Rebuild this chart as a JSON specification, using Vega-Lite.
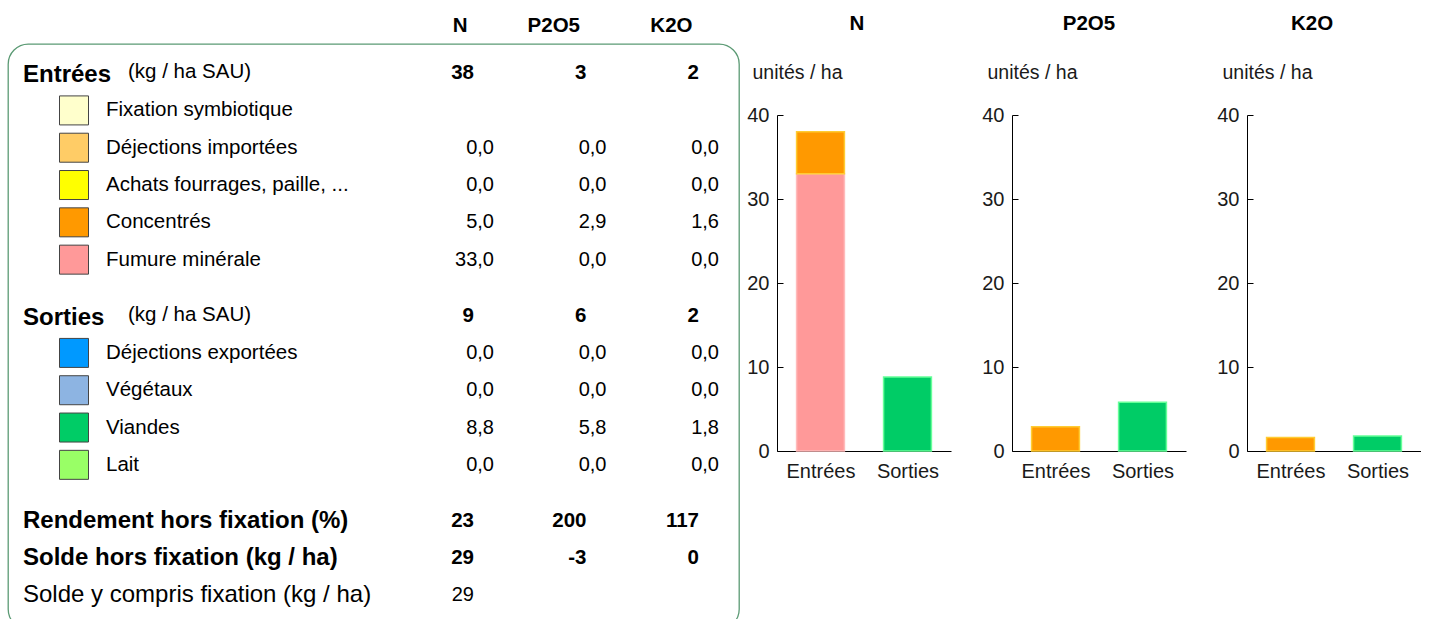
{
  "$schema": "https://vega.github.io/schema/vega-lite/v6.json",
  "background": "white",
  "padding": {"left": 7, "top": 13, "right": 0, "bottom": 0},
  "config": {
    "font": "Liberation Sans",
    "view": {"stroke": null},
    "locale": {"number": {"decimal": ",", "thousands": " ", "grouping": [3], "currency": ["", " €"], "minus": "-"}},
    "axis": {"labelFont": "Liberation Sans", "titleFont": "Liberation Sans", "grid": false},
    "text": {"font": "Liberation Sans", "color": "#000"}
  },
  "datasets": {
    "lignes": [
      {"rang": 0, "libelle": "Entrées", "style": "section", "note": "(kg / ha SAU)"},
      {"rang": 1, "libelle": "Fixation symbiotique", "style": "poste"},
      {"rang": 2, "libelle": "Déjections importées", "style": "poste"},
      {"rang": 3, "libelle": "Achats fourrages, paille, ...", "style": "poste"},
      {"rang": 4, "libelle": "Concentrés", "style": "poste"},
      {"rang": 5, "libelle": "Fumure minérale", "style": "poste"},
      {"rang": 6.5, "libelle": "Sorties", "style": "section", "note": "(kg / ha SAU)"},
      {"rang": 7.5, "libelle": "Déjections exportées", "style": "poste"},
      {"rang": 8.5, "libelle": "Végétaux", "style": "poste"},
      {"rang": 9.5, "libelle": "Viandes", "style": "poste"},
      {"rang": 10.5, "libelle": "Lait", "style": "poste"},
      {"rang": 12, "libelle": "Rendement hors fixation (%)", "style": "bilan"},
      {"rang": 13, "libelle": "Solde hors fixation (kg / ha)", "style": "bilan"},
      {"rang": 14, "libelle": "Solde y compris fixation (kg / ha)", "style": "simple"}
    ],
    "valeurs": [
      {"rang": 0, "element": "N", "valeur": 38, "style": "total"},
      {"rang": 0, "element": "P2O5", "valeur": 3, "style": "total"},
      {"rang": 0, "element": "K2O", "valeur": 2, "style": "total"},
      {"rang": 2, "element": "N", "valeur": 0.0, "style": "detail"},
      {"rang": 2, "element": "P2O5", "valeur": 0.0, "style": "detail"},
      {"rang": 2, "element": "K2O", "valeur": 0.0, "style": "detail"},
      {"rang": 3, "element": "N", "valeur": 0.0, "style": "detail"},
      {"rang": 3, "element": "P2O5", "valeur": 0.0, "style": "detail"},
      {"rang": 3, "element": "K2O", "valeur": 0.0, "style": "detail"},
      {"rang": 4, "element": "N", "valeur": 5.0, "style": "detail"},
      {"rang": 4, "element": "P2O5", "valeur": 2.9, "style": "detail"},
      {"rang": 4, "element": "K2O", "valeur": 1.6, "style": "detail"},
      {"rang": 5, "element": "N", "valeur": 33.0, "style": "detail"},
      {"rang": 5, "element": "P2O5", "valeur": 0.0, "style": "detail"},
      {"rang": 5, "element": "K2O", "valeur": 0.0, "style": "detail"},
      {"rang": 6.5, "element": "N", "valeur": 9, "style": "total"},
      {"rang": 6.5, "element": "P2O5", "valeur": 6, "style": "total"},
      {"rang": 6.5, "element": "K2O", "valeur": 2, "style": "total"},
      {"rang": 7.5, "element": "N", "valeur": 0.0, "style": "detail"},
      {"rang": 7.5, "element": "P2O5", "valeur": 0.0, "style": "detail"},
      {"rang": 7.5, "element": "K2O", "valeur": 0.0, "style": "detail"},
      {"rang": 8.5, "element": "N", "valeur": 0.0, "style": "detail"},
      {"rang": 8.5, "element": "P2O5", "valeur": 0.0, "style": "detail"},
      {"rang": 8.5, "element": "K2O", "valeur": 0.0, "style": "detail"},
      {"rang": 9.5, "element": "N", "valeur": 8.8, "style": "detail"},
      {"rang": 9.5, "element": "P2O5", "valeur": 5.8, "style": "detail"},
      {"rang": 9.5, "element": "K2O", "valeur": 1.8, "style": "detail"},
      {"rang": 10.5, "element": "N", "valeur": 0.0, "style": "detail"},
      {"rang": 10.5, "element": "P2O5", "valeur": 0.0, "style": "detail"},
      {"rang": 10.5, "element": "K2O", "valeur": 0.0, "style": "detail"},
      {"rang": 12, "element": "N", "valeur": 23, "style": "total"},
      {"rang": 12, "element": "P2O5", "valeur": 200, "style": "total"},
      {"rang": 12, "element": "K2O", "valeur": 117, "style": "total"},
      {"rang": 13, "element": "N", "valeur": 29, "style": "total"},
      {"rang": 13, "element": "P2O5", "valeur": -3, "style": "total"},
      {"rang": 13, "element": "K2O", "valeur": 0, "style": "total"},
      {"rang": 14, "element": "N", "valeur": 29, "style": "simple"}
    ],
    "bilans": [
      {"element": "N", "flux": "Entrées", "categorie": "Fumure minérale", "valeur": 33.0},
      {"element": "N", "flux": "Entrées", "categorie": "Concentrés", "valeur": 5.0},
      {"element": "N", "flux": "Sorties", "categorie": "Viandes", "valeur": 8.8},
      {"element": "P2O5", "flux": "Entrées", "categorie": "Concentrés", "valeur": 2.9},
      {"element": "P2O5", "flux": "Sorties", "categorie": "Viandes", "valeur": 5.8},
      {"element": "K2O", "flux": "Entrées", "categorie": "Concentrés", "valeur": 1.6},
      {"element": "K2O", "flux": "Sorties", "categorie": "Viandes", "valeur": 1.8}
    ]
  },
  "spacing": 6,
  "hconcat": [
    {
      "width": 731,
      "height": 585,
      "view": {"stroke": "#5b9a74", "strokeWidth": 1.3, "cornerRadius": 20},
      "encoding": {
        "y": {"field": "rang", "type": "quantitative", "scale": {"domain": [-0.78, 14.9], "reverse": true, "nice": false, "zero": false}, "axis": null}
      },
      "layer": [
        {
          "data": {"name": "lignes"},
          "transform": [{"filter": "datum.style === 'section'"}],
          "mark": {"type": "text", "align": "left", "baseline": "middle", "fontSize": 24, "fontWeight": "bold", "dy": 2},
          "encoding": {"x": {"value": 15}, "text": {"field": "libelle"}}
        },
        {
          "data": {"name": "lignes"},
          "transform": [{"filter": "datum.style === 'section'"}],
          "mark": {"type": "text", "align": "left", "baseline": "middle", "fontSize": 20.5, "dy": -1},
          "encoding": {"x": {"value": 120}, "text": {"field": "note"}}
        },
        {
          "data": {"name": "lignes"},
          "transform": [{"filter": "datum.style === 'poste'"}],
          "mark": {"type": "square", "size": 841, "opacity": 1, "stroke": "#444", "strokeWidth": 1},
          "encoding": {
            "x": {"value": 66},
            "fill": {"field": "libelle", "type": "nominal", "legend": null,
              "scale": {"domain": ["Fixation symbiotique", "Déjections importées", "Achats fourrages, paille, ...", "Concentrés", "Fumure minérale", "Déjections exportées", "Végétaux", "Viandes", "Lait"],
                        "range": ["#FFFFCC", "#FFCC66", "#FFFF00", "#FF9900", "#FF9999", "#0099FF", "#8DB4E2", "#00CC66", "#99FF66"]}}
          }
        },
        {
          "data": {"name": "lignes"},
          "transform": [{"filter": "datum.style === 'poste'"}],
          "mark": {"type": "text", "align": "left", "baseline": "middle", "fontSize": 20.5},
          "encoding": {"x": {"value": 98}, "text": {"field": "libelle"}}
        },
        {
          "data": {"name": "lignes"},
          "transform": [{"filter": "datum.style === 'bilan'"}],
          "mark": {"type": "text", "align": "left", "baseline": "middle", "fontSize": 24, "fontWeight": "bold"},
          "encoding": {"x": {"value": 15}, "text": {"field": "libelle"}}
        },
        {
          "data": {"name": "lignes"},
          "transform": [{"filter": "datum.style === 'simple'"}],
          "mark": {"type": "text", "align": "left", "baseline": "middle", "fontSize": 24},
          "encoding": {"x": {"value": 15}, "text": {"field": "libelle"}}
        },
        {
          "data": {"name": "valeurs"},
          "transform": [{"filter": "datum.style === 'total'"}],
          "mark": {"type": "text", "align": "right", "baseline": "middle", "fontSize": 20.5, "fontWeight": "bold"},
          "encoding": {
            "x": {"field": "element", "type": "nominal",
              "scale": {"type": "point", "domain": ["N", "P2O5", "K2O"], "range": [466, 691], "padding": 0},
              "axis": {"orient": "top", "title": null, "labelAngle": 0, "labelFontSize": 20.5, "labelFontWeight": "bold", "labelColor": "#000", "ticks": false, "tickSize": 0, "domain": false, "labelPadding": 9, "labelAlign": "right", "labelOffset": -7}},
            "text": {"field": "valeur", "type": "quantitative", "format": ".0f"}
          }
        },
        {
          "data": {"name": "valeurs"},
          "transform": [{"filter": "datum.style === 'detail'"}],
          "mark": {"type": "text", "align": "right", "baseline": "middle", "fontSize": 20, "dx": 20},
          "encoding": {
            "x": {"field": "element", "type": "nominal"},
            "text": {"field": "valeur", "type": "quantitative", "format": ".1f"}
          }
        },
        {
          "data": {"name": "valeurs"},
          "transform": [{"filter": "datum.style === 'simple'"}],
          "mark": {"type": "text", "align": "right", "baseline": "middle", "fontSize": 20},
          "encoding": {
            "x": {"field": "element", "type": "nominal"},
            "text": {"field": "valeur", "type": "quantitative", "format": ".0f"}
          }
        }
      ]
    },
    {
      "spacing": 30,
      "hconcat": [
        {
          "width": 174, "height": 407,
          "data": {"name": "bilans"},
          "transform": [{"filter": "datum.element === 'N'"}],
          "title": {"text": "N", "fontSize": 20.5, "fontWeight": "bold", "color": "#000", "anchor": "middle", "offset": 10, "dx": -7},
          "mark": {"type": "bar", "strokeWidth": 1.5},
          "encoding": {
            "x": {"field": "flux", "type": "nominal", "sort": ["Entrées", "Sorties"], "scale": {"domain": ["Entrées", "Sorties"], "paddingInner": 0.45, "paddingOuter": 0.225},
              "axis": {"title": null, "labelAngle": 0, "labelFontSize": 20, "labelColor": "#1a1a1a", "tickBand": "extent", "tickSize": -5, "labelPadding": 15, "domainColor": "#000", "tickColor": "#000"}},
            "y": {"field": "valeur", "type": "quantitative", "stack": "zero", "scale": {"domain": [0, 40], "nice": false, "range": [407, 71]},
              "axis": {"values": [0, 10, 20, 30, 40], "title": "unités / ha", "titleAngle": 0, "titleAlign": "left", "titleBaseline": "middle", "titleX": -25, "titleY": 28, "titleFontSize": 19.5, "titleFontWeight": "normal", "titleColor": "#1a1a1a", "labelFontSize": 20, "labelColor": "#1a1a1a", "tickSize": -6, "labelPadding": 14, "domainColor": "#000", "tickColor": "#000"}},
            "fill": {"field": "categorie", "type": "nominal", "legend": null,
              "scale": {"domain": ["Fixation symbiotique", "Déjections importées", "Achats fourrages, paille, ...", "Concentrés", "Fumure minérale", "Déjections exportées", "Végétaux", "Viandes", "Lait"],
                        "range": ["#FFFFCC", "#FFCC66", "#FFFF00", "#FF9900", "#FF9999", "#0099FF", "#8DB4E2", "#00CC66", "#99FF66"]}},
            "stroke": {"field": "categorie", "type": "nominal", "legend": null,
              "scale": {"domain": ["Fixation symbiotique", "Déjections importées", "Achats fourrages, paille, ...", "Concentrés", "Fumure minérale", "Déjections exportées", "Végétaux", "Viandes", "Lait"],
                        "range": ["#FFFFE5", "#FFE0A0", "#FFFF80", "#FFCC33", "#FFBBBB", "#66C2FF", "#B8D0EE", "#66FF99", "#CCFF99"]}},
            "order": {"field": "categorie", "type": "nominal", "sort": "descending"}
          }
        },
        {
          "width": 174, "height": 407,
          "data": {"name": "bilans"},
          "transform": [{"filter": "datum.element === 'P2O5'"}],
          "title": {"text": "P2O5", "fontSize": 20.5, "fontWeight": "bold", "color": "#000", "anchor": "middle", "offset": 10, "dx": -10},
          "mark": {"type": "bar", "strokeWidth": 1.5},
          "encoding": {
            "x": {"field": "flux", "type": "nominal", "sort": ["Entrées", "Sorties"], "scale": {"domain": ["Entrées", "Sorties"], "paddingInner": 0.45, "paddingOuter": 0.225},
              "axis": {"title": null, "labelAngle": 0, "labelFontSize": 20, "labelColor": "#1a1a1a", "tickBand": "extent", "tickSize": -5, "labelPadding": 15, "domainColor": "#000", "tickColor": "#000"}},
            "y": {"field": "valeur", "type": "quantitative", "stack": "zero", "scale": {"domain": [0, 40], "nice": false, "range": [407, 71]},
              "axis": {"values": [0, 10, 20, 30, 40], "title": "unités / ha", "titleAngle": 0, "titleAlign": "left", "titleBaseline": "middle", "titleX": -25, "titleY": 28, "titleFontSize": 19.5, "titleFontWeight": "normal", "titleColor": "#1a1a1a", "labelFontSize": 20, "labelColor": "#1a1a1a", "tickSize": -6, "labelPadding": 14, "domainColor": "#000", "tickColor": "#000"}},
            "fill": {"field": "categorie", "type": "nominal", "legend": null,
              "scale": {"domain": ["Fixation symbiotique", "Déjections importées", "Achats fourrages, paille, ...", "Concentrés", "Fumure minérale", "Déjections exportées", "Végétaux", "Viandes", "Lait"],
                        "range": ["#FFFFCC", "#FFCC66", "#FFFF00", "#FF9900", "#FF9999", "#0099FF", "#8DB4E2", "#00CC66", "#99FF66"]}},
            "stroke": {"field": "categorie", "type": "nominal", "legend": null,
              "scale": {"domain": ["Fixation symbiotique", "Déjections importées", "Achats fourrages, paille, ...", "Concentrés", "Fumure minérale", "Déjections exportées", "Végétaux", "Viandes", "Lait"],
                        "range": ["#FFFFE5", "#FFE0A0", "#FFFF80", "#FFCC33", "#FFBBBB", "#66C2FF", "#B8D0EE", "#66FF99", "#CCFF99"]}},
            "order": {"field": "categorie", "type": "nominal", "sort": "descending"}
          }
        },
        {
          "width": 174, "height": 407,
          "data": {"name": "bilans"},
          "transform": [{"filter": "datum.element === 'K2O'"}],
          "title": {"text": "K2O", "fontSize": 20.5, "fontWeight": "bold", "color": "#000", "anchor": "middle", "offset": 10, "dx": -22},
          "mark": {"type": "bar", "strokeWidth": 1.5},
          "encoding": {
            "x": {"field": "flux", "type": "nominal", "sort": ["Entrées", "Sorties"], "scale": {"domain": ["Entrées", "Sorties"], "paddingInner": 0.45, "paddingOuter": 0.225},
              "axis": {"title": null, "labelAngle": 0, "labelFontSize": 20, "labelColor": "#1a1a1a", "tickBand": "extent", "tickSize": -5, "labelPadding": 15, "domainColor": "#000", "tickColor": "#000"}},
            "y": {"field": "valeur", "type": "quantitative", "stack": "zero", "scale": {"domain": [0, 40], "nice": false, "range": [407, 71]},
              "axis": {"values": [0, 10, 20, 30, 40], "title": "unités / ha", "titleAngle": 0, "titleAlign": "left", "titleBaseline": "middle", "titleX": -25, "titleY": 28, "titleFontSize": 19.5, "titleFontWeight": "normal", "titleColor": "#1a1a1a", "labelFontSize": 20, "labelColor": "#1a1a1a", "tickSize": -6, "labelPadding": 14, "domainColor": "#000", "tickColor": "#000"}},
            "fill": {"field": "categorie", "type": "nominal", "legend": null,
              "scale": {"domain": ["Fixation symbiotique", "Déjections importées", "Achats fourrages, paille, ...", "Concentrés", "Fumure minérale", "Déjections exportées", "Végétaux", "Viandes", "Lait"],
                        "range": ["#FFFFCC", "#FFCC66", "#FFFF00", "#FF9900", "#FF9999", "#0099FF", "#8DB4E2", "#00CC66", "#99FF66"]}},
            "stroke": {"field": "categorie", "type": "nominal", "legend": null,
              "scale": {"domain": ["Fixation symbiotique", "Déjections importées", "Achats fourrages, paille, ...", "Concentrés", "Fumure minérale", "Déjections exportées", "Végétaux", "Viandes", "Lait"],
                        "range": ["#FFFFE5", "#FFE0A0", "#FFFF80", "#FFCC33", "#FFBBBB", "#66C2FF", "#B8D0EE", "#66FF99", "#CCFF99"]}},
            "order": {"field": "categorie", "type": "nominal", "sort": "descending"}
          }
        }
      ]
    }
  ]
}
